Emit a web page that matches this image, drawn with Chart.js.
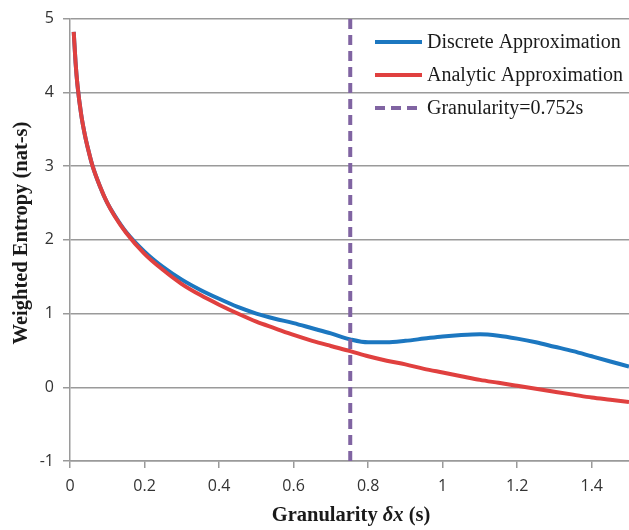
<!DOCTYPE html>
<html>
<head>
<meta charset="utf-8">
<script src="https://cdn.jsdelivr.net/npm/chart.js@4/dist/chart.umd.min.js"></script>
<style>
  html, body { margin: 0; padding: 0; background: #fff; }
</style>
</head>
<body>
<canvas id="entropyChart" width="629" height="530"></canvas>
<script>
// Data
const granularity = [0.01, 0.015, 0.02, 0.03, 0.04, 0.05, 0.06, 0.08, 0.10, 0.12, 0.15, 0.2, 0.25, 0.3, 0.35, 0.4, 0.45, 0.5, 0.55, 0.6, 0.65, 0.7, 0.752, 0.8, 0.85, 0.9, 0.95, 1.0, 1.05, 1.1, 1.15, 1.2, 1.25, 1.3, 1.35, 1.4, 1.45, 1.5];
const discrete = [4.82, 4.40, 4.10, 3.70, 3.42, 3.20, 3.01, 2.73, 2.50, 2.33, 2.11, 1.84, 1.63, 1.46, 1.32, 1.20, 1.09, 1.00, 0.93, 0.87, 0.80, 0.73, 0.65, 0.61, 0.61, 0.63, 0.66, 0.69, 0.71, 0.72, 0.70, 0.66, 0.61, 0.55, 0.49, 0.42, 0.35, 0.28];
const analytic = [4.82, 4.40, 4.10, 3.70, 3.42, 3.20, 3.01, 2.73, 2.50, 2.32, 2.10, 1.81, 1.59, 1.40, 1.25, 1.12, 1.00, 0.89, 0.80, 0.71, 0.63, 0.56, 0.49, 0.42, 0.36, 0.31, 0.25, 0.20, 0.15, 0.10, 0.06, 0.02, -0.02, -0.06, -0.10, -0.14, -0.17, -0.20];
const markerX = 0.752;
const yRange = [-1, 5];
const xRange = [0, 1.5];

const seriesLabels = ['Discrete Approximation', 'Analytic Approximation', 'Granularity=0.752s'];
const colors = ['#1c77c0', '#e0403f', '#8064a2'];

const toPoints = (xs, ys) => xs.map((x, i) => ({ x: x, y: ys[i] }));

// custom legend + axis titles (x title has an italic part)
const decorations = {
    id: 'decorations',
    afterDraw(chart) {
        const c = chart.ctx;
        c.save();
        // legend
        const rows = [42, 75, 108];
        c.font = '20px "Liberation Serif", "Times New Roman", serif';
        c.textBaseline = 'middle';
        rows.forEach((y, i) => {
            c.beginPath();
            c.strokeStyle = colors[i];
            c.lineWidth = 4;
            c.setLineDash(i === 2 ? [10, 6] : []);
            c.moveTo(375, y);
            c.lineTo(422, y);
            c.stroke();
            c.setLineDash([]);
            c.fillStyle = '#1a1a1a';
            c.fillText(seriesLabels[i], 427, y + 1);
        });

        // x axis title
        const parts = [
            ['bold 20.5px "Liberation Serif", serif', 'Granularity '],
            ['bold italic 20.5px "Liberation Serif", serif', '\u03B4x'],
            ['bold 20.5px "Liberation Serif", serif', ' (s)']
        ];
        let total = 0;
        parts.forEach(p => { c.font = p[0]; total += c.measureText(p[1]).width; });
        let x = 351 - total / 2;
        c.fillStyle = '#1a1a1a';
        c.textBaseline = 'middle';
        parts.forEach(p => { c.font = p[0]; c.fillText(p[1], x, 516); x += c.measureText(p[1]).width; });

        // y axis title
        c.translate(22, 233);
        c.rotate(-Math.PI / 2);
        c.font = 'bold 20.5px "Liberation Serif", serif';
        c.textAlign = 'center';
        c.fillText('Weighted Entropy (nat-s)', 0, 0);
        c.restore();
    }
};

const ctx = document.getElementById('entropyChart').getContext('2d');
new Chart(ctx, {
    type: 'line',
    data: {
        datasets: [{
            label: seriesLabels[0],
            data: toPoints(granularity, discrete),
            borderColor: colors[0],
            borderWidth: 4,
            pointRadius: 0,
            cubicInterpolationMode: 'monotone',
            order: 2
        }, {
            label: seriesLabels[1],
            data: toPoints(granularity, analytic),
            borderColor: colors[1],
            borderWidth: 4,
            pointRadius: 0,
            cubicInterpolationMode: 'monotone',
            order: 1
        }, {
            label: seriesLabels[2],
            data: [{ x: markerX, y: yRange[0] }, { x: markerX, y: yRange[1] }],
            borderColor: colors[2],
            borderWidth: 4,
            borderDash: [10, 6],
            pointRadius: 0,
            order: 0
        }]
    },
    options: {
        responsive: false,
        animation: false,
        devicePixelRatio: 1,
        layout: { padding: { top: 15, right: 0, left: 0, bottom: 0 } },
        plugins: { legend: { display: false }, tooltip: { enabled: false } },
        scales: {
            x: {
                type: 'linear',
                min: xRange[0],
                max: xRange[1],
                afterFit: s => { s.height = 69; },
                border: { color: '#9a9a9a', width: 1.5 },
                grid: { drawOnChartArea: false, drawTicks: true, tickLength: 7, color: '#9a9a9a', lineWidth: 1.5 },
                ticks: {
                    stepSize: 0.2,
                    includeBounds: false,
                    padding: 9,
                    color: '#333',
                    font: { family: '"Open Sans", sans-serif', size: 16 },
                    callback: v => String(+v.toFixed(1))
                }
            },
            y: {
                min: yRange[0],
                max: yRange[1],
                afterFit: s => { s.width = 70; },
                border: { color: '#9a9a9a', width: 1.5 },
                grid: { color: '#9a9a9a', lineWidth: 1.5, tickLength: 7 },
                ticks: {
                    stepSize: 1,
                    padding: 9,
                    color: '#333',
                    font: { family: '"Open Sans", sans-serif', size: 16 }
                }
            }
        }
    },
    plugins: [decorations]
});
</script>
</body>
</html>
